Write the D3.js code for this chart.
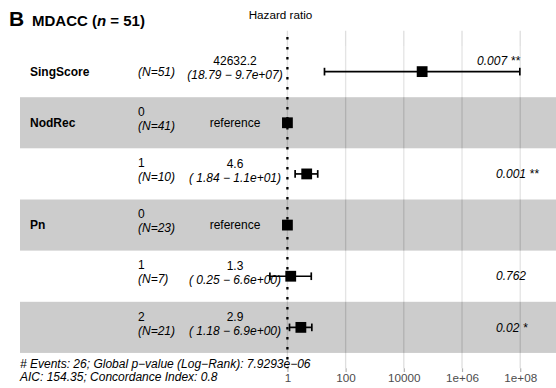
<!DOCTYPE html>
<html>
<head>
<meta charset="utf-8">
<script src="https://cdn.jsdelivr.net/npm/d3@7"></script>
<style>
  body { margin: 0; background: #fff; }
  svg { display: block; font-family: "Liberation Sans", Arial, Helvetica, sans-serif; }
</style>
</head>
<body>
<div id="chart"></div>
<script>
// Forest plot data
var rowVars = ["SingScore", "NodRec", "", "Pn", "", ""];
var rowLevels = ["", "0", "1", "0", "1", "2"];
var rowN = [51, 41, 10, 23, 7, 21];
var hrEst = [42632.2, 1, 4.6, 1, 1.3, 2.9];
var ciLow = [18.79, null, 1.84, null, 0.25, 1.18];
var ciHigh = [9.7e7, null, 11, null, 6.6, 6.9];
var estLabels = ["42632.2", "reference", "4.6", "reference", "1.3", "2.9"];
var ciLabels = ["(18.79 \u2212 9.7e+07)", "", "( 1.84 \u2212 1.1e+01)", "", "( 0.25 \u2212 6.6e+00)", "( 1.18 \u2212 6.9e+00)"];
var pLabels = ["0.007 **", "", "0.001 **", "", "0.762", "0.02 *"];
var tickValues = [1, 100, 10000, 1e6, 1e8];
var tickLabels = ["1", "100", "10000", "1e+06", "1e+08"];
var footer = ["# Events: 26; Global p\u2212value (Log\u2212Rank): 7.9293e\u221206",
              "AIC: 154.35; Concordance Index: 0.8"];

var width = 556, height = 388;
var svg = d3.select("#chart").append("svg")
    .attr("width", width).attr("height", height);

// Scales
var x = d3.scaleLog()
    .domain([Math.pow(10, -9.19), Math.pow(10, 9.23)])
    .range([20, 556]);
var y = d3.scaleLinear()
    .domain([-0.8, 5.8])
    .range([30.7, 368.3]);
var rowH = y(1) - y(0);
var idx = d3.range(rowVars.length);

// Grid lines (under the bands)
svg.append("g").selectAll("line")
    .data(tickValues)
    .enter().append("line")
    .attr("x1", function (d) { return x(d); })
    .attr("x2", function (d) { return x(d); })
    .attr("y1", y(-0.8))
    .attr("y2", y(5.8))
    .attr("stroke", "#dedede")
    .attr("stroke-width", 1.3);

// Alternating bands
svg.append("g").selectAll("rect")
    .data(idx)
    .enter().append("rect")
    .attr("x", 20)
    .attr("width", 536)
    .attr("y", function (i) { return y(i) - rowH / 2; })
    .attr("height", rowH)
    .attr("fill", function (i) { return i % 2 ? "rgba(0,0,0,0.2)" : "rgba(255,255,255,0.2)"; });

// X axis
var xAxis = svg.append("g")
    .attr("transform", "translate(0," + y(5.8) + ")")
    .call(d3.axisBottom(x).tickValues(tickValues)
        .tickFormat(function (d, i) { return tickLabels[i]; })
        .tickSizeOuter(0).tickSize(3.7).tickPadding(2));
xAxis.select(".domain").remove();
xAxis.selectAll(".tick line").attr("stroke", "#b3b3b3").attr("stroke-width", 1.2);
xAxis.selectAll(".tick text")
    .attr("fill", "#4d4d4d")
    .style("font-size", "11.7px")
    .style("font-family", "Liberation Sans, Arial, sans-serif");

// Error bars
var ciRows = idx.filter(function (i) { return ciLow[i] != null; });
var eb = svg.append("g").attr("stroke", "#000").attr("stroke-width", 1.7);
eb.selectAll(".ci").data(ciRows).enter().append("line")
    .attr("x1", function (i) { return x(ciLow[i]); })
    .attr("x2", function (i) { return x(ciHigh[i]); })
    .attr("y1", function (i) { return y(i); })
    .attr("y2", function (i) { return y(i); });
[ciLow, ciHigh].forEach(function (arr) {
    eb.append("g").selectAll("line").data(ciRows).enter().append("line")
        .attr("x1", function (i) { return x(arr[i]); })
        .attr("x2", function (i) { return x(arr[i]); })
        .attr("y1", function (i) { return y(i) - rowH * 0.075; })
        .attr("y2", function (i) { return y(i) + rowH * 0.075; });
});

// Point estimates
var sq = 10.8;
svg.append("g").selectAll("rect")
    .data(idx)
    .enter().append("rect")
    .attr("x", function (i) { return x(hrEst[i]) - sq / 2; })
    .attr("y", function (i) { return y(i) - sq / 2; })
    .attr("width", sq).attr("height", sq)
    .attr("fill", "#000");

// Reference line at HR = 1 (drawn bottom to top like ggplot)
svg.append("line")
    .attr("x1", x(1)).attr("x2", x(1))
    .attr("y1", y(5.8)).attr("y2", y(-0.8))
    .attr("stroke", "#000")
    .attr("stroke-width", 2.3)
    .attr("stroke-dasharray", "2.5 7.5")
    .attr("stroke-dashoffset", 1.25);

// Row annotations
var txt = svg.append("g").style("font-size", "12px").attr("fill", "#000");

txt.selectAll(".var").data(idx.filter(function (i) { return rowVars[i]; }))
    .enter().append("text")
    .attr("x", 30).attr("y", function (i) { return y(i); })
    .attr("dy", "0.35em")
    .style("font-weight", "bold")
    .text(function (i) { return rowVars[i]; });

txt.selectAll(".lev").data(idx.filter(function (i) { return rowLevels[i]; }))
    .enter().append("text")
    .attr("x", 138).attr("y", function (i) { return y(i) - 6.8; })
    .text(function (i) { return rowLevels[i]; });

txt.selectAll(".n").data(idx)
    .enter().append("text")
    .attr("x", 138)
    .attr("y", function (i) { return rowLevels[i] ? y(i) + 7.2 : y(i); })
    .attr("dy", function (i) { return rowLevels[i] ? 0 : "0.35em"; })
    .style("font-style", "italic")
    .text(function (i) { return "(N=" + rowN[i] + ")"; });

txt.selectAll(".est").data(idx)
    .enter().append("text")
    .attr("x", 235)
    .attr("y", function (i) { return ciLabels[i] ? y(i) - 6.2 : y(i); })
    .attr("dy", function (i) { return ciLabels[i] ? 0 : "0.35em"; })
    .attr("text-anchor", "middle")
    .text(function (i) { return estLabels[i]; });

txt.selectAll(".ci").data(idx.filter(function (i) { return ciLabels[i]; }))
    .enter().append("text")
    .attr("x", 235).attr("y", function (i) { return y(i) + 7.6; })
    .attr("text-anchor", "middle")
    .style("font-style", "italic")
    .text(function (i) { return ciLabels[i]; });

// p-values: moved above the bar when the CI runs into the column
var pX = 496;
txt.selectAll(".p").data(idx.filter(function (i) { return pLabels[i]; }))
    .enter().append("text")
    .attr("x", function (i) { return ciHigh[i] && x(ciHigh[i]) > pX ? x(ciHigh[i]) : pX; })
    .attr("y", function (i) { return ciHigh[i] && x(ciHigh[i]) > pX ? y(i) - 10.5 : y(i); })
    .attr("dy", "0.35em")
    .attr("text-anchor", function (i) { return ciHigh[i] && x(ciHigh[i]) > pX ? "end" : "start"; })
    .style("font-style", "italic")
    .text(function (i) { return pLabels[i]; });

// Footer
txt.selectAll(".foot").data(footer)
    .enter().append("text")
    .attr("x", 20)
    .attr("y", function (d, i) { return 368 + i * 13; })
    .style("font-style", "italic")
    .text(function (d) { return d; });

// Titles
svg.append("text")
    .attr("x", 280.5).attr("y", 19)
    .attr("text-anchor", "middle")
    .style("font-size", "11.7px")
    .text("Hazard ratio");

var title = svg.append("text")
    .attr("x", 9).attr("y", 26)
    .style("font-weight", "bold");
title.append("tspan").style("font-size", "21px").text("B");
title.append("tspan").attr("x", 32).style("font-size", "15px").text("MDACC (");
title.append("tspan").style("font-size", "15px").style("font-style", "italic").text("n");
title.append("tspan").style("font-size", "15px").text(" = 51)");
</script>
</body>
</html>
